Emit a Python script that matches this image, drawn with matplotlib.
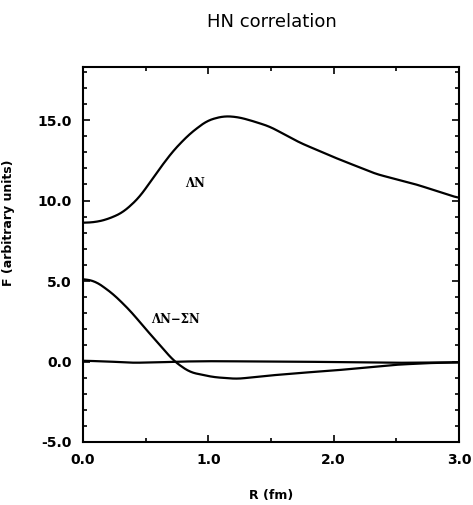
import matplotlib
matplotlib.use("Agg")
import matplotlib.pyplot as plt
from matplotlib.ticker import MultipleLocator
import numpy as np

# radial distance R (fm) and the correlation curves F (arbitrary units)
r_lam = [0.0, 0.1, 0.2, 0.32, 0.45, 0.59, 0.72, 0.85, 0.99, 1.12, 1.23, 1.33,
         1.49, 1.73, 2.0, 2.34, 2.66, 3.0]
f_lam = [8.62, 8.66, 8.85, 9.27, 10.2, 11.76, 13.1, 14.14, 14.97, 15.25, 15.2,
         15.0, 14.6, 13.6, 12.7, 11.65, 11.0, 10.15]

r_diff = [0.0, 0.1, 0.24, 0.375, 0.51, 0.64, 0.72, 0.85, 1.04, 1.23, 1.49,
          1.75, 2.0, 2.25, 2.5, 2.75, 3.0]
f_diff = [5.13, 4.99, 4.2, 3.17, 1.93, 0.79, 0.06, -0.66, -0.97, -1.08, -0.87,
          -0.7, -0.56, -0.38, -0.2, -0.1, -0.05]

r_zero = [0.0, 0.2, 0.4, 0.6, 0.8, 1.0, 1.5, 2.0, 2.5, 3.0]
f_zero = [0.05, 0.0, -0.08, -0.05, 0.0, 0.02, 0.0, -0.03, -0.08, -0.05]

fig = plt.figure(figsize=(4.73, 5.05), dpi=100)
ax = fig.add_axes([0.1755, 0.1248, 0.7949, 0.7425])

for x, y in [(r_lam, f_lam), (r_diff, f_diff), (r_zero, f_zero)]:
    xs = np.linspace(x[0], x[-1], 400)
    # linear interpolation with a light running mean to round the corners
    ys = np.interp(xs, x, y)
    k = np.ones(15) / 15
    ys = np.convolve(np.pad(ys, 7, mode="edge"), k, mode="valid")
    ax.plot(xs, ys, color="black", lw=1.6)

ax.text(0.89, 11.05, "ΛN", family="DejaVu Serif", fontweight="bold",
        fontsize=8.5, ha="center", va="center")
ax.text(0.74, 2.6, "ΛN−ΣN", family="DejaVu Serif", fontweight="bold",
        fontsize=8.5, ha="center", va="center")

ax.set_xlim(0, 3)
ax.set_ylim(-5, 18.3)
ax.xaxis.set_major_locator(MultipleLocator(1.0))
ax.xaxis.set_minor_locator(MultipleLocator(0.5))
ax.yaxis.set_major_locator(MultipleLocator(5.0))
ax.yaxis.set_minor_locator(MultipleLocator(1.0))
ax.xaxis.set_major_formatter(plt.FormatStrFormatter("%.1f"))
ax.yaxis.set_major_formatter(plt.FormatStrFormatter("%.1f"))
ax.tick_params(which="both", direction="in", top=True, right=True, width=1.2)
ax.tick_params(which="major", length=5, pad=8, labelsize=10)
ax.tick_params(which="minor", length=3)
for lab in ax.get_xticklabels() + ax.get_yticklabels():
    lab.set_fontweight("bold")
for s in ax.spines.values():
    s.set_linewidth(1.5)

ax.set_xlabel("R (fm)", fontsize=9, fontweight="bold")
ax.xaxis.set_label_coords(0.5, -0.125)
ax.set_ylabel("F (arbitrary units)", fontsize=9, fontweight="bold")
ax.yaxis.set_label_coords(-0.18, 0.584)

fig.text(0.574, 0.956, "HN correlation", fontsize=13, ha="center", va="center")

fig.savefig("out.png", dpi=100)
